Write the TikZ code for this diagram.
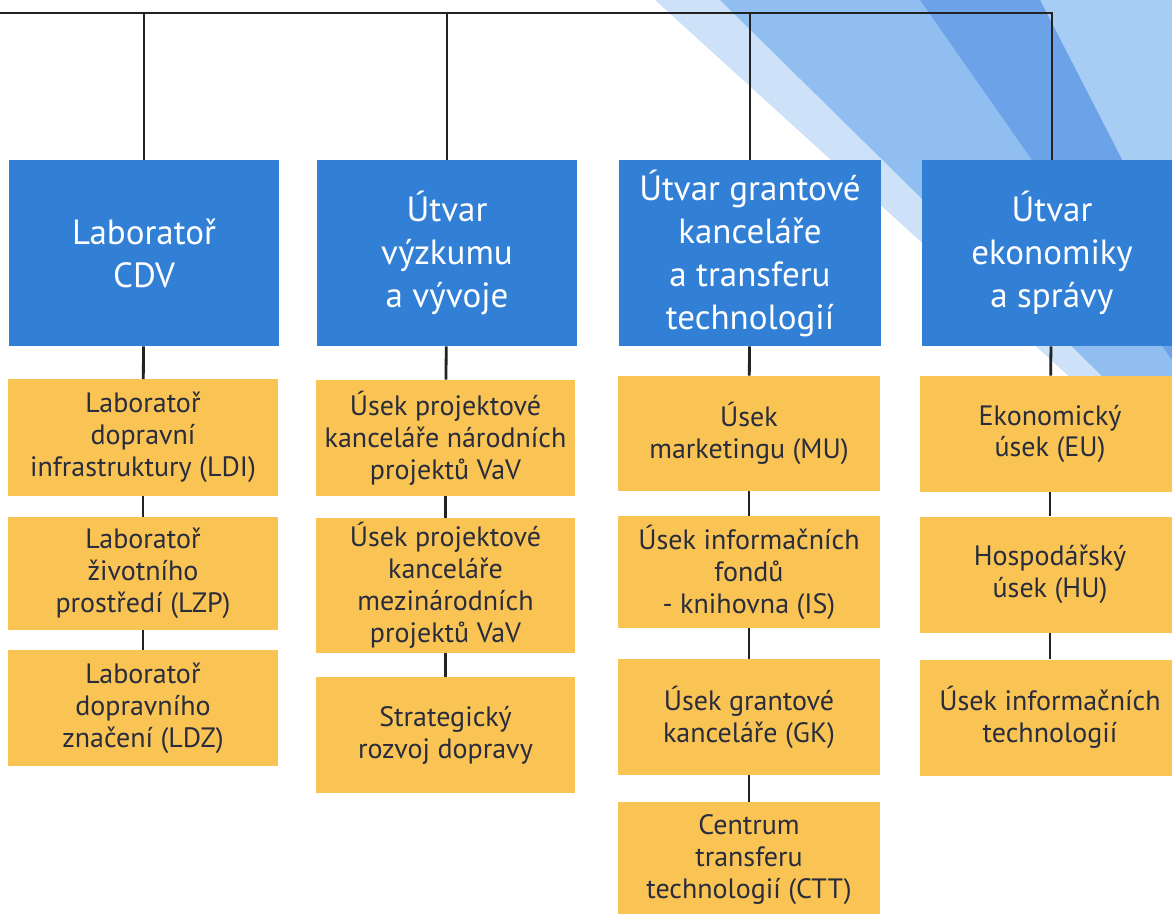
\documentclass[tikz,border=0pt]{standalone}
\usepackage{fontspec}
\setmainfont{PT Sans}
\usetikzlibrary{positioning}
\definecolor{cdvblue}{RGB}{50,128,214}
\definecolor{cdvyellow}{RGB}{250,196,84}
\definecolor{cdvtext}{RGB}{40,44,60}
\definecolor{cdvline}{RGB}{35,35,35}
\definecolor{stripepale}{RGB}{205,225,248}
\definecolor{stripemid}{RGB}{145,190,240}
\definecolor{stripedark}{RGB}{108,162,232}
\definecolor{stripelight}{RGB}{168,205,245}
\tikzset{head box/.style={fill=cdvblue,text=white,inner sep=0pt,minimum width=130pt,minimum height=93pt,align=center,font=\fontsize{17.5}{21.5}\selectfont}}
\tikzset{unit box/.style={fill=cdvyellow,text=cdvtext,inner sep=0pt,minimum width=130pt,minimum height=58pt,align=center,font=\fontsize{14}{16}\selectfont}}
\tikzset{link/.style={draw=cdvline,line width=1.4pt}}

\begin{document}
\begin{tikzpicture}[x=0.5pt,y=-0.5pt]
\useasboundingbox (0,0) rectangle (1172,914);
% background stripes
\fill[stripepale] (655,0) -- (1172,0) -- (1172,470) -- cycle;
\fill[stripemid] (720,0) -- (1172,0) -- (1172,445) -- cycle;
\fill[stripelight] (1040,0) -- (1172,0) -- (1172,257) -- cycle;
\fill[stripedark] (920,0) -- (1040,0) -- (1172,257) -- (1172,360) -- cycle;

% heads
\node[head box,minimum width=135pt] (lab) at (144,253) {Laboratoř\\CDV};
\node[head box] (vav) at (447,253) {Útvar\\výzkumu\\a vývoje};
\node[head box,minimum width=131pt] (gk) at (750,253) {Útvar grantové\\kanceláře\\a transferu\\technologií};
\node[head box] (eko) at (1052,253) {Útvar\\ekonomiky\\a správy};

% units
\node[unit box,minimum width=135pt] (ldi) at (143,437.5) {Laboratoř\\dopravní\\infrastruktury (LDI)};
\node[unit box,minimum width=135pt,minimum height=56.5pt] (lzp) at (143,573.5) {Laboratoř\\životního\\prostředí (LZP)};
\node[unit box,minimum width=135pt] (ldz) at (143,708) {Laboratoř\\dopravního\\značení (LDZ)};

\node[unit box,minimum width=129.5pt] (npr) at (445.5,438) {Úsek projektové\\kanceláře národních\\projektů VaV};
\node[unit box,minimum width=129.5pt,minimum height=67.5pt] (mpr) at (445.5,585.5) {Úsek projektové\\kanceláře\\mezinárodních\\projektů VaV};
\node[unit box,minimum width=129.5pt] (srd) at (445.5,735) {Strategický\\rozvoj dopravy};

\node[unit box,minimum width=131pt,minimum height=57.5pt] (mu) at (749,433.5) {Úsek\\marketingu (MU)};
\node[unit box,minimum width=131pt,minimum height=56pt] (is) at (749,572) {Úsek informačních\\fondů\\- knihovna (IS)};
\node[unit box,minimum width=131pt] (gko) at (749,717) {Úsek grantové\\kanceláře (GK)};
\node[unit box,minimum width=131pt] (ctt) at (749,860) {Centrum\\transferu\\technologií (CTT)};

\node[unit box] (eu) at (1050,434) {Ekonomický\\úsek (EU)};
\node[unit box] (hu) at (1050,574.5) {Hospodářský\\úsek (HU)};
\node[unit box] (it) at (1050,717.5) {Úsek informačních\\technologií};

% connectors
\coordinate (top) at (0,13);
\draw[link] (top) -| (eko.north);
\draw[link] (lab.north) -- (lab.north |- top);
\draw[link] (vav.north) -- (vav.north |- top);
\draw[link] (gk.north) -- (gk.north |- top);
\path[link]
    (lab) edge (ldi)
    (ldi) edge (lzp)
    (lzp) edge (ldz)
    (vav) edge (npr)
    (npr) edge (mpr)
    (mpr) edge (srd)
    (gk)  edge (mu)
    (mu)  edge (is)
    (is)  edge (gko)
    (gko) edge (ctt)
    (eko) edge (eu)
    (eu)  edge (hu)
    (hu)  edge (it)
    ;
\end{tikzpicture}
\end{document}
